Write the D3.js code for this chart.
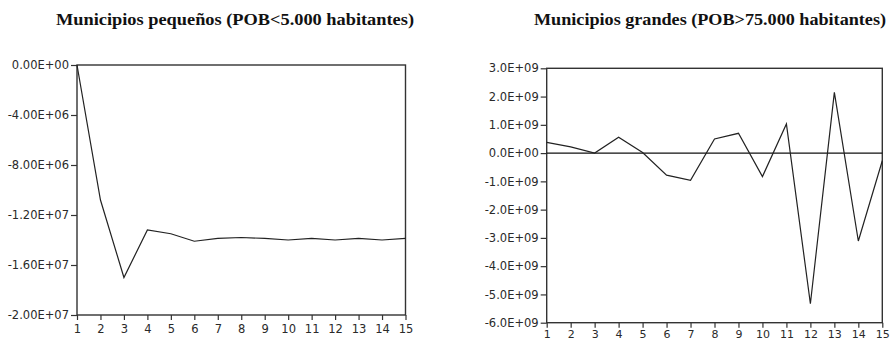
<!DOCTYPE html>
<html><head><meta charset="utf-8">
<script src="https://cdn.jsdelivr.net/npm/d3@7"></script>
<style>body{margin:0;background:#fff}svg{display:block}</style>
</head><body><svg id="c" width="891" height="341"></svg>
<script>
const periods = [1,2,3,4,5,6,7,8,9,10,11,12,13,14,15];
const smallValues = [0,-1.08e7,-1.70e7,-1.32e7,-1.35e7,-1.41e7,-1.387e7,-1.38e7,-1.387e7,-1.40e7,-1.387e7,-1.40e7,-1.387e7,-1.40e7,-1.387e7];
const largeValues = [0.38e9,0.22e9,0.0,0.56e9,0.02e9,-0.78e9,-0.96e9,0.5e9,0.70e9,-0.83e9,1.03e9,-5.33e9,2.15e9,-3.11e9,-0.27e9];
const smallTicks = [0,-4e6,-8e6,-1.2e7,-1.6e7,-2e7];
const smallTickLabels = ["0.00E+00","-4.00E+06","-8.00E+06","-1.20E+07","-1.60E+07","-2.00E+07"];
const largeTicks = [3e9,2e9,1e9,0,-1e9,-2e9,-3e9,-4e9,-5e9,-6e9];
const largeTickLabels = ["3.0E+09","2.0E+09","1.0E+09","0.0E+00","-1.0E+09","-2.0E+09","-3.0E+09","-4.0E+09","-5.0E+09","-6.0E+09"];
const titles = ["Municipios pequeños (POB<5.000 habitantes)","Municipios grandes (POB>75.000 habitantes)"];

const svg = d3.select("#c");
const panels = [
  {title:titles[0], values:smallValues, ticks:smallTicks, labels:smallTickLabels, domain:[-2e7,0],
   x0:77, x1:405.5, y0:65, y1:315, tx:235, tw:358, xpad:5, xfs:11.5, zero:false},
  {title:titles[1], values:largeValues, ticks:largeTicks, labels:largeTickLabels, domain:[-6e9,3e9],
   x0:546.7, x1:882.3, y0:68.3, y1:322.7, tx:710, tw:352, xpad:2.5, xfs:11, zero:true}
];
panels.forEach(p=>{
  const g = svg.append("g");
  const x = d3.scaleLinear().domain([1,15]).range([p.x0,p.x1]);
  const y = d3.scaleLinear().domain(p.domain).range([p.y1,p.y0]);
  g.append("text").attr("x",p.tx).attr("y",25).attr("text-anchor","middle")
    .attr("font-family","Liberation Serif").attr("font-weight","bold").attr("font-size",16)
    .attr("textLength",p.tw).attr("lengthAdjust","spacingAndGlyphs").attr("fill","#111").text(p.title);
  const ya = g.append("g").attr("transform",`translate(${p.x0},0)`)
    .call(d3.axisLeft(y).tickValues(p.ticks).tickFormat((d,i)=>p.labels[i]).tickSizeOuter(0).tickSize(6).tickPadding(2));
  ya.select(".domain").remove();
  ya.selectAll("text").attr("font-family","DejaVu Sans").attr("font-size",11.5).attr("fill","#2a2a2a");
  ya.selectAll("line").attr("stroke","#333").attr("stroke-width",1.2);
  const xa = g.append("g").attr("transform",`translate(0,${p.y1})`)
    .call(d3.axisBottom(x).tickValues(periods).tickFormat(d3.format("d")).tickSizeOuter(0).tickSize(5).tickPadding(p.xpad));
  xa.select(".domain").remove();
  xa.selectAll("text").attr("font-family","DejaVu Sans").attr("font-size",p.xfs).attr("fill","#2a2a2a");
  xa.selectAll("line").attr("stroke","#333").attr("stroke-width",1.2);
  g.append("rect").attr("x",p.x0).attr("y",p.y0).attr("width",p.x1-p.x0).attr("height",p.y1-p.y0)
    .attr("fill","none").attr("stroke","#333").attr("stroke-width",1.4);
  if(p.zero){
    g.append("line").attr("x1",p.x0).attr("x2",p.x1).attr("y1",y(0)).attr("y2",y(0))
      .attr("stroke","#111").attr("stroke-width",1.2);
  }
  g.append("path").datum(p.values.map((v,i)=>[periods[i],v]))
    .attr("fill","none").attr("stroke","#222").attr("stroke-width",1.2)
    .attr("d",d3.line().x(d=>x(d[0])).y(d=>y(d[1])));
});
</script></body></html>
